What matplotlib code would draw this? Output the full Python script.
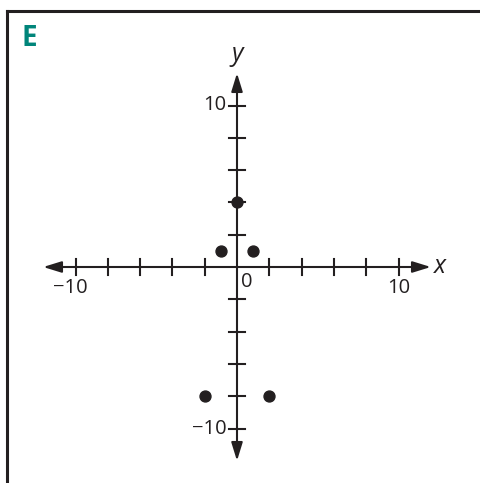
import matplotlib.pyplot as plt
from matplotlib.lines import Line2D

plt.rcParams['font.family'] = ['Open Sans', 'DejaVu Sans']

# points plotted on the grid
point_x = [0, -1, 1, -2, 2]
point_y = [4, 1, 1, -8, -8]

tick_vals = [-10, -8, -6, -4, -2, 2, 4, 6, 8, 10]
axis_end = 12

ink = '#231f20'
teal = '#00857a'

W, H, DPI = 480, 483, 100
ox, oy = 237, 267       # origin in pixels (from top-left)
unit = 16.15            # pixels per unit

fig = plt.figure(figsize=(W / DPI, H / DPI), dpi=DPI)
ax = fig.add_axes([0, 0, 1, 1])
ax.set_xlim(-ox / unit, (W - ox) / unit)
ax.set_ylim(-(H - oy) / unit, oy / unit)
ax.axis('off')

# panel frame: top and left edges only
fig.add_artist(Line2D([6.5 / W, 1], [1 - 11 / H, 1 - 11 / H], transform=fig.transFigure,
                      color=ink, lw=2.2, solid_capstyle='projecting'))
fig.add_artist(Line2D([6.5 / W, 6.5 / W], [0, 1 - 11 / H], transform=fig.transFigure,
                      color=ink, lw=2.2, solid_capstyle='projecting'))
fig.text(22 / W, 1 - 38 / H, 'E', color=teal, fontsize=20, fontweight='bold',
         va='center', ha='left')

# axes with arrowheads at both ends
arrow = dict(arrowstyle='<|-|>,head_length=0.55,head_width=0.17', lw=1.5,
             color=ink, mutation_scale=20, shrinkA=0, shrinkB=0)
ax.annotate('', xy=(axis_end, 0), xytext=(-axis_end, 0), arrowprops=arrow)
ax.annotate('', xy=(0, axis_end), xytext=(0, -axis_end), arrowprops=arrow)

tl = 0.5
for t in tick_vals:
    ax.plot([t, t], [-tl, tl], color=ink, lw=1.5)
    ax.plot([-tl, tl], [t, t], color=ink, lw=1.5)

fs = 14.5
ax.text(-10.3, -0.7, '\u221210', ha='center', va='top', fontsize=fs, color=ink)
ax.text(10, -0.7, '10', ha='center', va='top', fontsize=fs, color=ink)
ax.text(0.25, -0.3, '0', ha='left', va='top', fontsize=fs, color=ink)
ax.text(-0.65, 10, '10', ha='right', va='center', fontsize=fs, color=ink)
ax.text(-0.65, -10, '\u221210', ha='right', va='center', fontsize=fs, color=ink)
ax.text(12.2, 0.05, 'x', ha='left', va='center', fontsize=18, style='italic', color=ink)
ax.text(0, 12.4, 'y', ha='center', va='bottom', fontsize=18, style='italic', color=ink)

ax.scatter(point_x, point_y, s=62, color=ink, zorder=5)

fig.savefig('out.png', dpi=DPI)
